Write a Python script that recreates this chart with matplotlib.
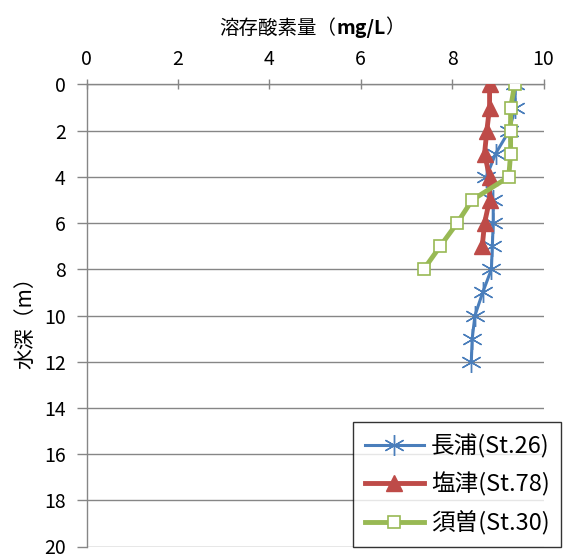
import matplotlib.pyplot as plt
import numpy as np

plt.rcParams['font.family'] = ['Noto Sans CJK JP', 'DejaVu Sans']

# depth (m)
depth_nagaura = np.arange(0, 13)
depth_shiotsu = np.arange(0, 8)
depth_suso = np.arange(0, 9)

# dissolved oxygen (mg/L)
do_nagaura = [9.38, 9.38, 9.25, 8.95, 8.75, 8.9, 8.9, 8.88, 8.86, 8.67, 8.5, 8.44, 8.42]
do_shiotsu = [8.82, 8.82, 8.76, 8.71, 8.82, 8.82, 8.71, 8.66]
do_suso = [9.37, 9.28, 9.28, 9.28, 9.24, 8.44, 8.11, 7.74, 7.38]

labels = ['長浦(St.26)', '塩津(St.78)', '須曽(St.30)']
blue = '#4A7EBB'
red = '#BE4B48'
green = '#98B954'
gray = '#868686'

fig = plt.figure(figsize=(5.72, 5.56), dpi=100)
ax = fig.add_axes([86.5 / 572, 1 - 546.5 / 556, 457 / 572, 462 / 556])

ax.plot(do_nagaura, depth_nagaura, color=blue, lw=2.2, marker=(6, 2, 0),
        ms=15, mew=1.0, mec=blue, label=labels[0], zorder=3)
ax.plot(do_shiotsu, depth_shiotsu, color=red, lw=3.5, marker='^',
        ms=12, mec=red, mfc=red, label=labels[1], zorder=4)
ax.plot(do_suso, depth_suso, color=green, lw=3.5, marker='s',
        ms=8, mew=1.2, mec=green, mfc='white', label=labels[2], zorder=5)

ax.set_xlim(0, 10)
ax.set_ylim(20, 0)
ax.set_xticks(np.arange(0, 11, 2))
ax.set_yticks(np.arange(0, 21, 2))
ax.xaxis.tick_top()
ax.tick_params(axis='x', direction='inout', length=7, width=1, color=gray,
               labelsize=14, pad=7)
ax.tick_params(axis='y', direction='out', length=7, width=1, color=gray,
               labelsize=14, pad=8)
ax.grid(axis='y', color=gray, lw=1)
for s in ['right', 'bottom']:
    ax.spines[s].set_visible(False)
for s in ['left', 'top']:
    ax.spines[s].set_color(gray)
    ax.spines[s].set_linewidth(1)

t1 = fig.text(336 / 572, 1 - 28 / 556, '溶存酸素量（', fontsize=14,
              ha='right', va='center')
t2 = ax.annotate('mg/L', xy=(1, 0), xycoords=t1, va='bottom', fontsize=14,
                 fontweight='bold')
ax.annotate('）', xy=(1, 0), xycoords=t2, va='bottom', fontsize=14)

fig.text(25 / 572, 1 - 318 / 556, '水深（m）', fontsize=15, rotation=90,
         ha='center', va='center')

leg = ax.legend(loc='upper left', bbox_to_anchor=(353 / 572, 1 - 422 / 556),
                bbox_transform=fig.transFigure, fontsize=17, frameon=True,
                fancybox=False, edgecolor='black', handlelength=2.5,
                handletextpad=0.3, labelspacing=0.6, borderpad=0.5,
                borderaxespad=0)
leg.get_frame().set_linewidth(1)

fig.savefig('out.png', dpi=100)
